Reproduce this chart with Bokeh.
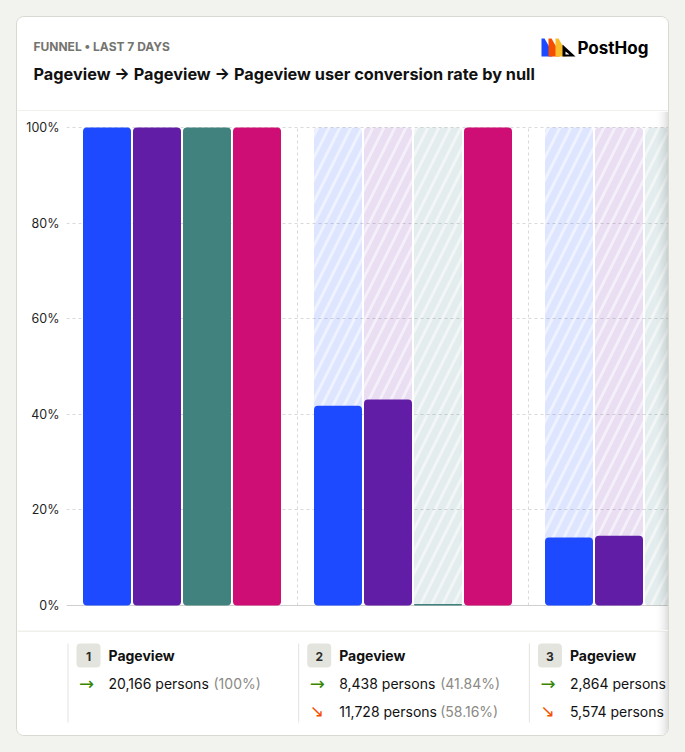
from bokeh.plotting import figure
from bokeh.models import Range1d, FixedTicker, PrintfTickFormatter, ColumnDataSource
from bokeh.layouts import column, row
from bokeh.embed import file_html
from bokeh.resources import INLINE
from bokeh.core.properties import value

# ---------------- data ----------------
step_names = ["Pageview", "Pageview", "Pageview"]
step_persons = [20166, 8438, 2864]
step_conv_pct = ["100%", "41.84%", "14.20%"]
dropoff_persons = [None, 11728, 5574]
dropoff_pct = [None, "58.16%", "66.06%"]

breakdown_colors = ["#1d4aff", "#621da6", "#42827e", "#ce0e74"]
conv_blue = [100.0, 41.8, 14.2]
conv_purple = [100.0, 43.1, 14.6]
conv_teal = [100.0, 0.3, 0.0]
conv_pink = [100.0, 100.0, 100.0]
y_ticks = [0, 20, 40, 60, 80, 100]

subtitle = "FUNNEL \u2022 LAST 7 DAYS"
title = "Pageview \u2192 Pageview \u2192 Pageview user conversion rate by null"

# ---------------- layout constants ----------------
FONT = value("Inter")
W = 651
GROUP_PX = 231.0
PITCH = 50.0 / GROUP_PX
BAR_W = 48.0 / GROUP_PX
FRAME_W = 602.0
PX_PER_PCT = 478.0 / 100.0
VISIBLE_RIGHT = 668

series = [conv_blue, conv_purple, conv_teal, conv_pink]
n_steps = len(step_names)

fg = dict(x=[], top=[], color=[])
bg = dict(x=[], top=[], color=[])
for k, vals in enumerate(series):
    for s, v in enumerate(vals):
        xc = s + 0.5 + (k - 1.5) * PITCH
        fg["x"].append(xc)
        fg["top"].append(v)
        fg["color"].append(breakdown_colors[k])
        if s > 0:
            bg["x"].append(xc)
            bg["top"].append(100.0)
            bg["color"].append(breakdown_colors[k])


def bare(fig):
    fig.xgrid.visible = False
    fig.ygrid.visible = False
    fig.outline_line_color = None
    fig.min_border = 0
    fig.background_fill_color = "white"
    fig.border_fill_color = "white"


def shadow(fig, xr, yr, top, bottom):
    for i in range(14):
        a = 0.13 * ((i + 1) / 14.0) ** 2
        fig.quad(left=[654 + i], right=[655 + i], top=[top], bottom=[bottom],
                 fill_color="black", fill_alpha=a, line_color=None,
                 x_range_name=xr, y_range_name=yr)


# ---------------- header ----------------
hdr = figure(width=W, height=94, x_range=Range1d(17, 668), y_range=Range1d(111, 17),
             output_backend="svg", toolbar_location=None,
             x_axis_location=None, y_axis_location=None)
bare(hdr)
hdr.text(x=[33], y=[45.5], text=[subtitle], text_font=FONT, text_font_style="bold",
         text_font_size="12px", text_color="#74746f", text_baseline="middle")
hdr.text(x=[33], y=[73], text=[title], text_font=FONT, text_font_style="bold",
         text_font_size="16.3px", text_color="#111111", text_baseline="middle")
# PostHog logo
logo_cols = ["#1d4aff", "#f54e00", "#f9bd2b"]
for k, c in enumerate(logo_cols):
    x0 = 541 + 7 * k
    hdr.patch(x=[x0, x0 + 3, x0 + 11, x0 + 11, x0], y=[38, 38, 52, 56, 56], fill_color=c, line_color=None)
hdr.patch(x=[562, 575, 562], y=[44, 56, 56], fill_color="#000000", line_color=None)
hdr.patch(x=[565, 569, 565], y=[51, 54, 54], fill_color="#ffffff", line_color=None)
hdr.text(x=[577], y=[47], text=["PostHog"], text_font=FONT, text_font_style="bold",
         text_font_size="17px", text_color="#000000", text_baseline="middle")
hdr.segment(x0=[17], x1=[668], y0=[110.5], y1=[110.5], line_color="#e0e0da", line_width=1)

# ---------------- chart ----------------
chart = figure(width=W, height=519,
               x_range=Range1d(0, FRAME_W / GROUP_PX),
               y_range=Range1d(-25.0 / PX_PER_PCT, 100 + 16.0 / PX_PER_PCT),
               output_backend="svg", toolbar_location=None, x_axis_location=None)
chart.outline_line_color = None
chart.min_border_left = 49
chart.min_border_right = 0
chart.min_border_top = 0
chart.min_border_bottom = 0
chart.xgrid.visible = False
chart.ygrid.ticker = FixedTicker(ticks=y_ticks[1:])
chart.ygrid.grid_line_color = "#d9d9d9"
chart.ygrid.grid_line_dash = "3 3"
chart.yaxis.ticker = FixedTicker(ticks=y_ticks)
chart.yaxis.formatter = PrintfTickFormatter(format="%d%%")
chart.yaxis.axis_line_color = None
chart.yaxis.major_tick_line_color = None
chart.yaxis.minor_tick_line_color = None
chart.yaxis.major_tick_out = 0
chart.yaxis.major_tick_in = 0
chart.yaxis.major_label_standoff = 7
chart.yaxis.major_label_text_font = "Inter"
chart.yaxis.major_label_text_font_size = "12.5px"
chart.yaxis.major_label_text_color = "#1f1f1f"

seps = list(range(1, n_steps + 1))
chart.segment(x0=seps, x1=seps, y0=[0] * len(seps), y1=[100] * len(seps),
              line_color="#d9d9d9", line_dash="3 3", line_width=1)
chart.segment(x0=[0], x1=[n_steps], y0=[0], y1=[0], line_color="#cfcfcf", line_width=1)

chart.vbar(x="x", top="top", bottom=0, width=BAR_W, source=ColumnDataSource(bg),
           fill_color="color", fill_alpha=0.07, line_color=None,
           hatch_pattern="right_diagonal_line", hatch_color="color", hatch_alpha=0.08,
           hatch_scale=22, hatch_weight=7, border_radius=4)
chart.vbar(x="x", top="top", bottom=0, width=BAR_W, source=ColumnDataSource(fg),
           fill_color="color", line_color=None, border_radius=4)

chart.extra_x_ranges = {"px": Range1d(66, 668)}
chart.extra_y_ranges = {"py": Range1d(630, 111)}
shadow(chart, "px", "py", 111, 630)

# ---------------- legend ----------------
leg = figure(width=W, height=105, x_range=Range1d(17, 668), y_range=Range1d(735, 630),
             output_backend="svg", toolbar_location=None,
             x_axis_location=None, y_axis_location=None)
bare(leg)
leg.segment(x0=[17], x1=[668], y0=[630.5], y1=[630.5], line_color="#e0e0da", line_width=1)
pct_offsets = [[105], [101, 101], [101, 101]]
for s in range(n_steps):
    col = 67.5 + 230.7 * s
    leg.segment(x0=[col], x1=[col], y0=[643], y1=[722], line_color="#e3e3df", line_width=1)
    leg.quad(left=[col + 8.5], right=[col + 32.5], top=[643], bottom=[667],
             fill_color="#e4e4de", line_color=None, border_radius=4)
    leg.text(x=[col + 20.5], y=[655.5], text=[str(s + 1)], text_font=FONT, text_font_style="bold",
             text_font_size="12px", text_color="#2b2b2b", text_baseline="middle", text_align="center")
    leg.text(x=[col + 40.5], y=[655], text=[step_names[s]], text_font=FONT, text_font_style="bold",
             text_font_size="14px", text_color="#111111", text_baseline="middle")
    leg.text(x=[col + 11], y=[682.5], text=["\u2192"], text_font=value("DejaVu Sans"),
             text_font_size="18px", text_color="#388600", text_baseline="middle")
    leg.text(x=[col + 40.5], y=[683], text=[f"{step_persons[s]:,} persons"], text_font=FONT,
             text_font_size="14px", text_color="#111111", text_baseline="middle")
    px0 = col + 40.5 + pct_offsets[s][0]
    if px0 < VISIBLE_RIGHT:
        leg.text(x=[px0], y=[683], text=[f"({step_conv_pct[s]})"], text_font=FONT,
                 text_font_size="14px", text_color="#8a8a85", text_baseline="middle")
    if dropoff_persons[s] is not None:
        leg.text(x=[col + 11], y=[710.5], text=["\u2198"], text_font=value("DejaVu Sans"),
                 text_font_size="17px", text_color="#f54e00", text_baseline="middle")
        leg.text(x=[col + 40.5], y=[711], text=[f"{dropoff_persons[s]:,} persons"], text_font=FONT,
                 text_font_size="14px", text_color="#111111", text_baseline="middle")
        px1 = col + 40.5 + pct_offsets[s][1]
        if px1 < VISIBLE_RIGHT:
            leg.text(x=[px1], y=[711], text=[f"({dropoff_pct[s]})"], text_font=FONT,
                     text_font_size="14px", text_color="#8a8a85", text_baseline="middle")
leg.extra_x_ranges = {"px": Range1d(17, 668)}
leg.extra_y_ranges = {"py": Range1d(735, 630)}
shadow(leg, "px", "py", 631, 735)

card = column(hdr, row(chart), leg, margin=(16, 0, 0, 16),
              styles={"border": "1px solid #d9d9d3", "border-radius": "8px",
                      "overflow": "hidden", "background-color": "white"})

html = file_html(card, INLINE, title="funnel")
html = html.replace("</head>", "<style>html, body { background-color: #f2f2ee !important; }</style></head>", 1)
open("out.html", "w").write(html)
